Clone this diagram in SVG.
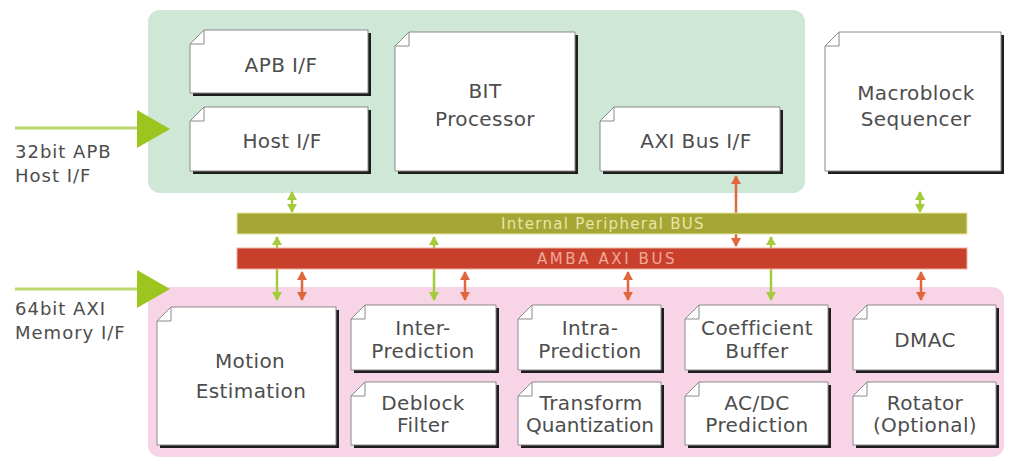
<svg xmlns="http://www.w3.org/2000/svg" width="1009" height="461" viewBox="0 0 1009 461">
<style>
.t{font-family:"DejaVu Sans","Liberation Sans",sans-serif;font-size:20px;fill:#4d4d4d;text-anchor:middle;letter-spacing:0.4px}
.lbl{font-family:"DejaVu Sans","Liberation Sans",sans-serif;font-size:18px;fill:#4d4d4d;letter-spacing:1px}
.bt{font-family:"DejaVu Sans","Liberation Sans",sans-serif;font-size:15px;text-anchor:middle}
.sh{fill:#1e1e1e}
.bx{fill:#fff;stroke:#8a8a8a;stroke-width:1}
.fold{fill:#fff;stroke:#8a8a8a;stroke-width:1}
.ga{stroke:#a3cb3c;stroke-width:2.5;fill:none;marker-start:url(#mg);marker-end:url(#mg)}
.ra{stroke:#e0673c;stroke-width:2.5;fill:none;marker-start:url(#mr);marker-end:url(#mr)}
</style>
<defs>
<marker id="mg" markerUnits="userSpaceOnUse" markerWidth="10" markerHeight="10" refX="8" refY="5" orient="auto-start-reverse"><path d="M0,0 L9,5 L0,10 z" fill="#a3cb3c"/></marker>
<marker id="mr" markerUnits="userSpaceOnUse" markerWidth="10" markerHeight="10" refX="8" refY="5" orient="auto-start-reverse"><path d="M0,0 L9,5 L0,10 z" fill="#e0673c"/></marker>
</defs>
<rect width="1009" height="461" fill="#fff"/>
<g id="panel-top"><rect x="148" y="10" width="657" height="183" rx="12" fill="#cfe7d6"/></g>
<g id="panel-bottom"><rect x="148" y="287" width="856" height="170" rx="12" fill="#f8d5e6"/></g>

<g id="connectors">
<line x1="15" y1="128" x2="140" y2="128" stroke="#bcd86e" stroke-width="3"/>
<polygon points="137,110 170,129 137,148" fill="#9cc520"/>
<line x1="15" y1="289" x2="140" y2="289" stroke="#bcd86e" stroke-width="3"/>
<polygon points="137,270 170,289 137,308" fill="#9cc520"/>
<line class="ga" x1="292" y1="192" x2="292" y2="212"/>
<line class="ga" x1="920" y1="192" x2="920" y2="212"/>
<line class="ga" x1="277" y1="237" x2="277" y2="300"/>
<line class="ga" x1="434" y1="237" x2="434" y2="300"/>
<line class="ga" x1="771" y1="237" x2="771" y2="300"/>
<line class="ra" x1="302" y1="272" x2="302" y2="300"/>
<line class="ra" x1="465" y1="272" x2="465" y2="300"/>
<line class="ra" x1="628" y1="272" x2="628" y2="300"/>
<line class="ra" x1="921" y1="272" x2="921" y2="300"/>
<line class="ra" x1="736" y1="176" x2="736" y2="246"/>
</g>

<g id="in-apb"><text class="lbl" x="15" y="158">32bit APB</text><text class="lbl" x="15" y="182">Host I/F</text></g>
<g id="in-axi"><text class="lbl" x="15" y="315">64bit AXI</text><text class="lbl" x="15" y="339">Memory I/F</text></g>

<g id="bus-periph"><rect x="237" y="213" width="730" height="21" fill="#a6a636" stroke="#e6e6a0" stroke-width="1"/><text class="bt" x="603" y="229" fill="#e6e6a4" style="letter-spacing:1.3px">Internal Peripheral BUS</text></g>
<g id="bus-axi"><rect x="237" y="248" width="730" height="21" fill="#c8402c" stroke="#f0b0a0" stroke-width="1"/><text class="bt" x="607" y="264" fill="#f2a898" style="letter-spacing:2.6px">AMBA AXI BUS</text></g>

<g id="apb-if"><path class="sh" d="M207,33 H371 V96 H193 V47 Z"/><path class="bx" d="M204,30 H368 V93 H190 V44 Z"/><path class="fold" d="M190,44 L204,30 V44 Z"/><text class="t" x="281" y="72">APB I/F</text></g>
<g id="host-if"><path class="sh" d="M207,110 H371 V174 H193 V124 Z"/><path class="bx" d="M204,107 H368 V171 H190 V121 Z"/><path class="fold" d="M190,121 L204,107 V121 Z"/><text class="t" x="282" y="148">Host I/F</text></g>
<g id="bit-proc"><path class="sh" d="M412,35 H578 V174 H398 V49 Z"/><path class="bx" d="M409,32 H575 V171 H395 V46 Z"/><path class="fold" d="M395,46 L409,32 V46 Z"/><text class="t" x="485" y="98">BIT</text><text class="t" x="485" y="126">Processor</text></g>
<g id="axi-if"><path class="sh" d="M617,110 H783 V174 H603 V124 Z"/><path class="bx" d="M614,107 H780 V171 H600 V121 Z"/><path class="fold" d="M600,121 L614,107 V121 Z"/><text class="t" x="696" y="148">AXI Bus I/F</text></g>
<g id="mb-seq"><path class="sh" d="M842,35 H1004 V174 H828 V49 Z"/><path class="bx" d="M839,32 H1001 V171 H825 V46 Z"/><path class="fold" d="M825,46 L839,32 V46 Z"/><text class="t" x="916" y="100">Macroblock</text><text class="t" x="916" y="126">Sequencer</text></g>

<g id="motion-est"><path class="sh" d="M174,310 H339 V448 H160 V324 Z"/><path class="bx" d="M171,307 H336 V445 H157 V321 Z"/><path class="fold" d="M157,321 L171,307 V321 Z"/><text class="t" x="250" y="368">Motion</text><text class="t" x="251" y="398">Estimation</text></g>
<g id="inter-pred"><path class="sh" d="M368,308 H499 V373 H354 V322 Z"/><path class="bx" d="M365,305 H496 V370 H351 V319 Z"/><path class="fold" d="M351,319 L365,305 V319 Z"/><text class="t" x="423" y="335">Inter-</text><text class="t" x="423" y="358">Prediction</text></g>
<g id="deblock"><path class="sh" d="M368,385 H499 V448 H354 V399 Z"/><path class="bx" d="M365,382 H496 V445 H351 V396 Z"/><path class="fold" d="M351,396 L365,382 V396 Z"/><text class="t" x="423" y="410">Deblock</text><text class="t" x="423" y="432">Filter</text></g>
<g id="intra-pred"><path class="sh" d="M535,308 H664 V373 H521 V322 Z"/><path class="bx" d="M532,305 H661 V370 H518 V319 Z"/><path class="fold" d="M518,319 L532,305 V319 Z"/><text class="t" x="590" y="335">Intra-</text><text class="t" x="590" y="358">Prediction</text></g>
<g id="transform"><path class="sh" d="M535,385 H664 V448 H521 V399 Z"/><path class="bx" d="M532,382 H661 V445 H518 V396 Z"/><path class="fold" d="M518,396 L532,382 V396 Z"/><text class="t" x="591" y="410">Transform</text><text class="t" x="590" y="432" style="letter-spacing:0">Quantization</text></g>
<g id="coef-buf"><path class="sh" d="M702,308 H831 V373 H688 V322 Z"/><path class="bx" d="M699,305 H828 V370 H685 V319 Z"/><path class="fold" d="M685,319 L699,305 V319 Z"/><text class="t" x="757" y="335">Coefficient</text><text class="t" x="757" y="358">Buffer</text></g>
<g id="acdc"><path class="sh" d="M702,385 H831 V448 H688 V399 Z"/><path class="bx" d="M699,382 H828 V445 H685 V396 Z"/><path class="fold" d="M685,396 L699,382 V396 Z"/><text class="t" x="757" y="410">AC/DC</text><text class="t" x="757" y="432">Prediction</text></g>
<g id="dmac"><path class="sh" d="M870,308 H999 V373 H856 V322 Z"/><path class="bx" d="M867,305 H996 V370 H853 V319 Z"/><path class="fold" d="M853,319 L867,305 V319 Z"/><text class="t" x="925" y="347">DMAC</text></g>
<g id="rotator"><path class="sh" d="M870,385 H999 V448 H856 V399 Z"/><path class="bx" d="M867,382 H996 V445 H853 V396 Z"/><path class="fold" d="M853,396 L867,382 V396 Z"/><text class="t" x="925" y="410">Rotator</text><text class="t" x="925" y="432">(Optional)</text></g>
</svg>
